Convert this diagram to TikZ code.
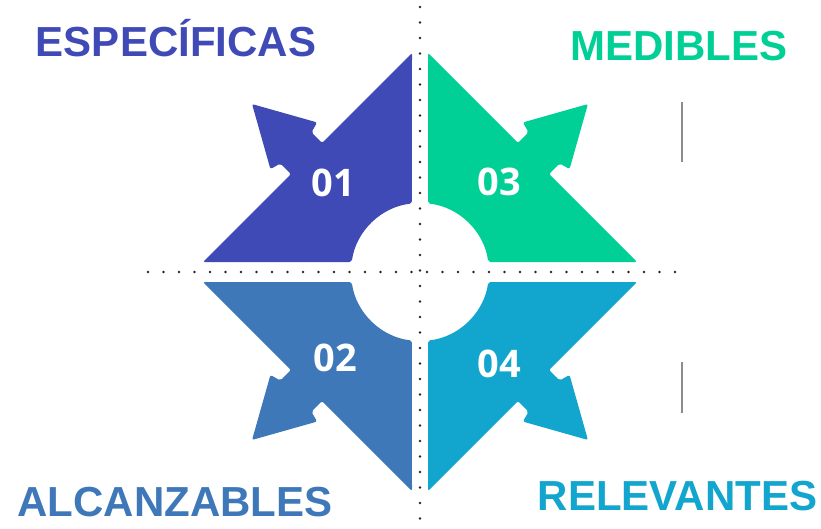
\documentclass[tikz,border=0pt]{standalone}
\usepackage{fontspec}
\setmainfont{Liberation Sans}
\newfontfamily\numfont{Open Sans}
\usepackage{tikz}
\usetikzlibrary{positioning}

\definecolor{colesp}{RGB}{64,74,182}
\definecolor{colmed}{RGB}{0,208,150}
\definecolor{colalc}{RGB}{62,120,185}
\definecolor{colrel}{RGB}{18,165,206}

% one quarter of the star, drawn for the top-left corner
\newcommand{\petal}[1]{%
  \fill[#1, rounded corners=2pt] (-8,219)
    -- ([shift={(-113.5,113.5)},rotate=135]0,-22)
    -- ([shift={(-113.5,113.5)},rotate=135]15,-22)
    -- ([shift={(-113.5,113.5)},rotate=135]18,-33)
    -- ([shift={(-113.5,113.5)},rotate=135]77,0)
    -- ([shift={(-113.5,113.5)},rotate=135]18,33)
    -- ([shift={(-113.5,113.5)},rotate=135]15,22)
    -- ([shift={(-113.5,113.5)},rotate=135]0,22)
    -- (-217,10) -- (-68.3,10)
    arc[start angle=171.67, end angle=96.66, radius=69] -- cycle;}

\begin{document}
\begin{tikzpicture}[x=1pt,y=1pt]

\tikzset{
  numlabel/.style={text=white, inner sep=0pt, font=\numfont\bfseries\fontsize{38}{38}\selectfont},
  goal/.style={anchor=base, inner sep=0pt, font=\bfseries\fontsize{42}{42}\selectfont},
  dotline/.style={draw=black!85, line width=2.8pt, line cap=round, dash pattern=on 0pt off 15.5pt}
}

\useasboundingbox (-420,-256) rectangle (401,272);

% the four quarters
\petal{colesp}
\begin{scope}[xscale=-1] \petal{colmed} \end{scope}
\begin{scope}[yscale=-1] \petal{colalc} \end{scope}
\begin{scope}[xscale=-1,yscale=-1] \petal{colrel} \end{scope}

% dotted axes
\draw[dotline] (-272,0) -- (270,0);
\draw[dotline] (0,265) -- (0,-252);

% thin marks on the right
\draw[black!45, line width=1.2pt] (262,170) -- (262,110);
\draw[black!45, line width=1.2pt] (262,-90) -- (262,-141);

% numbers
\node[numlabel] (n01) at (-86.5,89.5) {01};
\node[numlabel] (n03) at (79,90) {03};
\node[numlabel] (n02) at (-85,-86) {02};
\node[numlabel] (n04) at (79,-92) {04};

% labels
\node[goal, text=colesp] (esp) at (-244,216) {ESPECÍFICAS};
\node[goal, text=colmed] (med) at (259,212) {MEDIBLES};
\node[goal, text=colalc] (alc) at (-245,-244.7) {ALCANZABLES};
\node[goal, text=colrel] (rel) at (257.5,-238) {RELEVANTES};

\end{tikzpicture}
\end{document}
